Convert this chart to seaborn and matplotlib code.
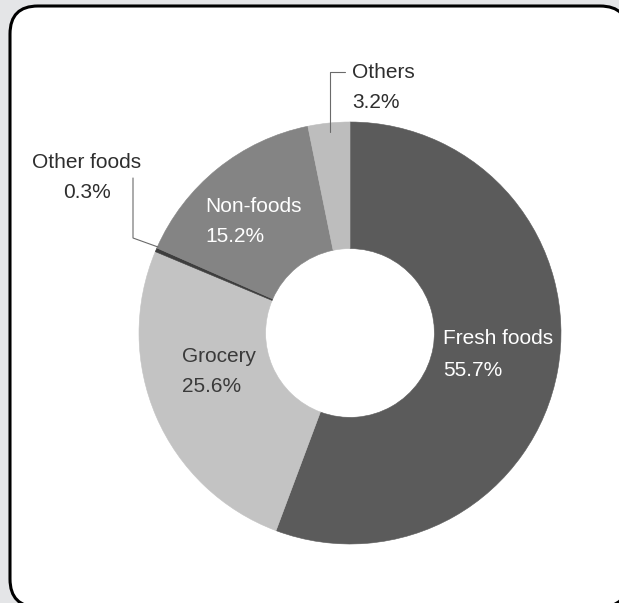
import matplotlib
matplotlib.use("Agg")
import matplotlib.pyplot as plt
import matplotlib.transforms as mtransforms
from matplotlib.patches import FancyBboxPatch
import seaborn as sns

# data
categories = ["Fresh foods", "Grocery", "Other foods", "Non-foods", "Others"]
shares = [55.7, 25.6, 0.3, 15.2, 3.2]
slice_colors = ["#5b5b5b", "#c3c3c3", "#3e3e3e", "#848484", "#bdbdbd"]

# label layout, in pixels from top-left: (x, y of first line, y of second line, ha, text color)
label_layout = {
    "Fresh foods": (443, 339, 370, "left", "white"),
    "Grocery": (182, 357, 386, "left", "#3a3a3a"),
    "Non-foods": (205, 207, 237, "left", "white"),
    "Others": (352, 73, 103, "left", "#2e2e2e"),
    "Other foods": (87, 163, 192, "center", "#2e2e2e"),
}
leader_lines = {
    "Others": [(345, 72), (330, 72), (330, 132)],
    "Other foods": [(133, 178), (133, 238), (158, 247)],
}

W, H = 619, 603
CX, CY, R = 350, 333, 211

sns.set_theme(style="white")
plt.rcParams["font.family"] = ["Liberation Sans Narrow", "Liberation Sans", "DejaVu Sans"]

fig = plt.figure(figsize=(W / 100, H / 100), dpi=100)
fig.patch.set_facecolor("#e4e5e7")

# rounded panel, its right and bottom edges run past the image
box = FancyBboxPatch((10, -4), 618, 601, boxstyle="round,pad=0,rounding_size=28",
                     transform=mtransforms.IdentityTransform(), facecolor="white",
                     edgecolor="black", linewidth=2.2, zorder=-1)
fig.patches.append(box)

ax = fig.add_axes([0, 0, 1, 1])
ax.patch.set_alpha(0)

ax.pie(shares, colors=slice_colors, startangle=90, counterclock=False, radius=1.0,
       wedgeprops=dict(width=0.6, linewidth=0.4))
for w, c in zip(ax.patches, slice_colors):
    w.set_edgecolor(c)

ax.set_xlim((0 - CX) / R, (W - CX) / R)
ax.set_ylim((CY - H) / R, CY / R)
ax.set_aspect("auto")
ax.axis("off")


def px(x, y):
    return (x - CX) / R, (CY - y) / R


for name, val in zip(categories, shares):
    x, y1, y2, ha, col = label_layout[name]
    ax.text(*px(x, y1), name, ha=ha, va="center", fontsize=15, color=col)
    ax.text(*px(x, y2), f"{val}%", ha=ha, va="center", fontsize=15, color=col)

for name, pts in leader_lines.items():
    xs, ys = zip(*[px(x, y) for x, y in pts])
    ax.plot(xs, ys, color="#6a6a6a", linewidth=0.8, clip_on=False)

fig.savefig("out.png", dpi=100, facecolor=fig.get_facecolor())
